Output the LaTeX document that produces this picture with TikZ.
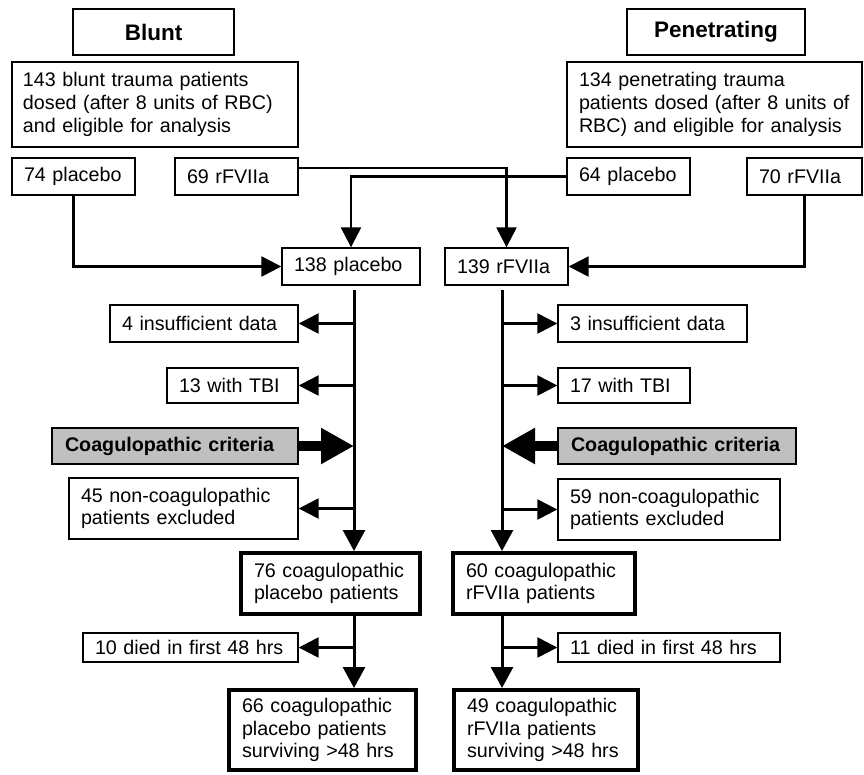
\documentclass[tikz,border=0pt]{standalone}
\usepackage{fontspec}
\setmainfont{Liberation Sans}
\usetikzlibrary{arrows.meta}
\definecolor{critgray}{RGB}{192,192,192}
\newcommand\flowbox[8]{%
  \pgfmathsetmacro\bxw{#4-#2}%
  \pgfmathsetmacro\bxh{#5-#3}%
  \pgfmathsetmacro\bxtw{#4-#2-2*#7}%
  \pgfmathsetmacro\bxcx{(#2+#4)/2}%
  \pgfmathsetmacro\bxcy{(#3+#5)/2}%
  \node[#6, minimum width=\bxw pt, minimum height=\bxh pt, text width=\bxtw pt,
        inner xsep=#7pt, inner ysep=0pt] (#1) at (\bxcx,\bxcy) {#8};}
\tikzset{
  thinbox/.style={draw=black, line width=1.4pt, fill=white, align=left,
    font=\fontsize{19.7}{22.7}\selectfont},
  thickbox/.style={thinbox, line width=4pt},
  titlebox/.style={thinbox, align=center, font=\fontsize{22.5}{26}\selectfont\bfseries},
  critbox/.style={thinbox, fill=critgray, font=\fontsize{19.7}{22.7}\selectfont\bfseries},
  conn/.style={line width=2.5pt, -{Triangle[length=20pt,width=20pt]}},
  plainline/.style={line width=3pt},
  trunkarrow/.style={line width=3pt, -{Triangle[length=21pt,width=22pt]}},
  fat/.style={line width=10pt, -{Triangle[length=33pt,width=34pt]}}
}
\begin{document}
\begin{tikzpicture}[x=1pt, y=-1pt]
\useasboundingbox (0,0) rectangle (864,774);
% top
\flowbox{blunt}{73}{9}{234}{55}{titlebox}{4}{Blunt}
\flowbox{pen}{627}{9}{805}{55}{titlebox}{4}{Penetrating}
\flowbox{b143}{12}{62}{298}{147}{thinbox}{11}{143 blunt trauma patients\\dosed (after 8 units of RBC)\\and eligible for analysis}
\flowbox{p134}{567}{62}{862}{147}{thinbox}{12}{134 penetrating trauma\\patients dosed (after 8 units of\\RBC) and eligible for analysis}
\flowbox{b74}{12}{158}{135}{195}{thinbox}{12}{74 placebo}
\flowbox{b69}{175}{158}{298}{195}{thinbox}{12}{69 rFVIIa}
\flowbox{p64}{567}{158}{690}{195}{thinbox}{12}{64 placebo}
\flowbox{p70}{747}{158}{862}{195}{thinbox}{12}{70 rFVIIa}
% pooled
\flowbox{pl138}{282}{248}{420}{285}{thinbox}{12}{138 placebo}
\flowbox{rf139}{445}{248}{568}{285}{thinbox}{12}{139 rFVIIa}
% left column
\flowbox{ins4}{110}{305}{298}{342}{thinbox}{12}{4 insufficient data}
\flowbox{tbi13}{167}{368}{298}{403}{thinbox}{12}{13 with TBI}
\flowbox{coagL}{52}{428}{298}{464}{critbox}{13}{Coagulopathic criteria}
\flowbox{non45}{69}{478}{298}{539}{thinbox}{12}{45 non-coagulopathic\\patients excluded}
\flowbox{c76}{241}{553}{420}{614}{thickbox}{13}{76 coagulopathic\\placebo patients}
\flowbox{d10}{83}{633}{298}{662}{thinbox}{12}{10 died in first 48 hrs}
\flowbox{s66}{229}{690}{416}{770}{thickbox}{13}{66 coagulopathic\\placebo patients\\surviving >48 hrs}
% right column
\flowbox{ins3}{558}{305}{747}{342}{thinbox}{12}{3 insufficient data}
\flowbox{tbi17}{558}{368}{690}{403}{thinbox}{12}{17 with TBI}
\flowbox{coagR}{558}{428}{796}{464}{critbox}{13}{Coagulopathic criteria}
\flowbox{non59}{558}{479}{780}{540}{thinbox}{12}{59 non-coagulopathic\\patients excluded}
\flowbox{c60}{453}{553}{635}{614}{thickbox}{13}{60 coagulopathic\\rFVIIa patients}
\flowbox{d11}{558}{633}{780}{662}{thinbox}{12}{11 died in first 48 hrs}
\flowbox{s49}{454}{690}{638}{770}{thickbox}{13}{49 coagulopathic\\rFVIIa patients\\surviving >48 hrs}
% top connectors
\draw[conn] (b74.south) |- (pl138.west);
\draw[conn] (p70.south) |- (rf139.east);
\draw[conn] ([yshift=8.5pt]b69.east) -| (rf139.north);
\draw[conn] (p64.west) -| (pl138.north);
% trunks
\coordinate (tL) at (354,290);
\coordinate (tR) at (502,290);
\draw[trunkarrow] (tL) -- (tL |- c76.north);
\draw[trunkarrow] (tR) -- (tR |- c60.north);
\draw[trunkarrow] (tL |- c76.south) -- (tL |- s66.north);
\draw[trunkarrow] (tR |- c60.south) -- (tR |- s49.north);
% side arrows left
\draw[conn] (tL |- ins4.east) -- (ins4.east);
\draw[conn] (tL |- tbi13.east) -- (tbi13.east);
\draw[conn] (tL |- non45.east) -- (non45.east);
\draw[conn] (tL |- d10.east) -- (d10.east);
\draw[fat] (coagL.east) -- (tL |- coagL.east);
% side arrows right
\draw[conn] (tR |- ins3.west) -- (ins3.west);
\draw[conn] (tR |- tbi17.west) -- (tbi17.west);
\draw[conn] (tR |- non59.west) -- (non59.west);
\draw[conn] (tR |- d11.west) -- (d11.west);
\draw[fat] (coagR.west) -- (tR |- coagR.west);
\end{tikzpicture}
\end{document}
